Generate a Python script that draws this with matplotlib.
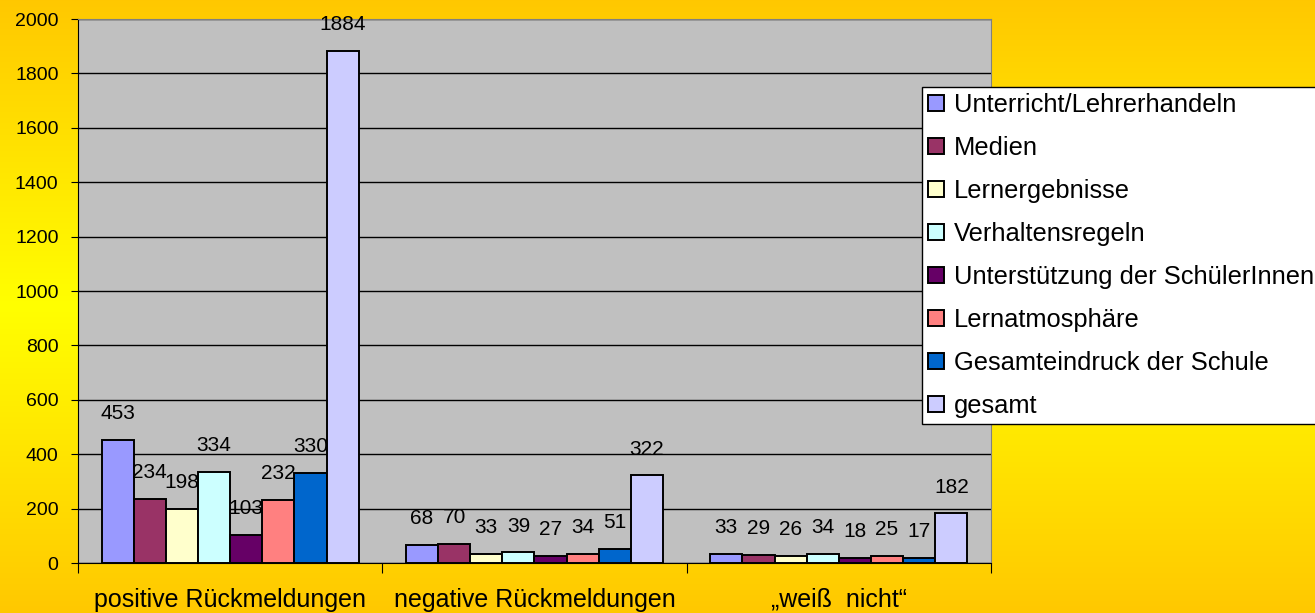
import numpy as np
import matplotlib
matplotlib.use("Agg")
import matplotlib.pyplot as plt

plt.rcParams['font.family'] = ['Liberation Sans', 'DejaVu Sans']

kategorien = [u"positive Rückmeldungen", u"negative Rückmeldungen", u"\u201eweiß  nicht\u201c"]
reihen = [u"Unterricht/Lehrerhandeln", u"Medien", u"Lernergebnisse", u"Verhaltensregeln",
          u"Unterstützung der SchülerInnen", u"Lernatmosphäre",
          u"Gesamteindruck der Schule", u"gesamt"]
farben = ['#9999FF', '#993366', '#FFFFCC', '#CCFFFF', '#660066', '#FF8080', '#0066CC', '#CCCCFF']

positiv = [453, 234, 198, 334, 103, 232, 330, 1884]
negativ = [68, 70, 33, 39, 27, 34, 51, 322]
weiss_nicht = [33, 29, 26, 34, 18, 25, 17, 182]
werte = np.array([positiv, negativ, weiss_nicht])

W, H = 1315, 613
fig = plt.figure(figsize=(W / 100.0, H / 100.0), dpi=100)

# hintergrund: orange oben/unten, gelb in der mitte
bg = fig.add_axes([0, 0, 1, 1], zorder=-10)
t = np.linspace(0, 1, 400)
g = 0.784 + (1.0 - 0.784) * (1 - np.abs(t - 0.5) * 2)
img = np.zeros((400, 2, 3))
img[:, :, 0] = 1.0
img[:, :, 1] = g[:, None]
img[:, :, 2] = 0.0
bg.imshow(img, aspect='auto', extent=[0, 1, 0, 1])
bg.axis('off')

left, right, top, bottom = 78, 991, 19, 563
ax = fig.add_axes([left / W, (H - bottom) / H, (right - left) / W, (bottom - top) / H])
ax.set_facecolor('#C0C0C0')

n = len(reihen)
bw = 0.845 / n
for j in range(n):
    xs = np.arange(len(kategorien)) + 0.5 + (j - (n - 1) / 2.0) * bw
    ax.bar(xs, werte[:, j], width=bw, color=farben[j], edgecolor='black',
           linewidth=1.4, label=reihen[j], zorder=3)
    for x, v in zip(xs, werte[:, j]):
        ax.annotate(str(v), (x, v), xytext=(0, 19), textcoords='offset points',
                    ha='center', va='center', fontsize=15, zorder=5)

ax.set_xlim(0, 3)
ax.set_ylim(0, 2000)
ax.set_yticks(np.arange(0, 2001, 200))
ax.yaxis.grid(True, color='black', linewidth=1)
ax.set_axisbelow(True)
ax.tick_params(axis='y', labelsize=14, length=5, pad=9, direction='out')

ax.set_xticks([0, 1, 2, 3])
ax.set_xticklabels([])
ax.set_xticks([0.5, 1.5, 2.5], minor=True)
ax.set_xticklabels(kategorien, minor=True, fontsize=18)
ax.tick_params(axis='x', which='major', length=7, direction='out')
ax.tick_params(axis='x', which='minor', length=0, pad=18)

for s in ['left', 'bottom']:
    ax.spines[s].set_color('black')
for s in ['top', 'right']:
    ax.spines[s].set_color('#808080')

leg = ax.legend(loc='upper left', bbox_to_anchor=(922 / W, 1 - 87 / H),
                bbox_transform=fig.transFigure, fontsize=18.4, frameon=True,
                fancybox=False, shadow=False, framealpha=1, borderpad=0.25,
                labelspacing=0.74, handlelength=0.6, handleheight=0.6,
                handletextpad=0.4, borderaxespad=0)
leg.get_frame().set_edgecolor('black')
leg.get_frame().set_linewidth(1)

fig.savefig('out.png', dpi=100)
